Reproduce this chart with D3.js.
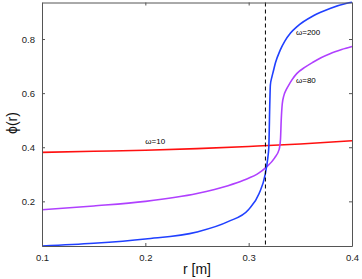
<!DOCTYPE html>
<html>
<head>
<meta charset="utf-8">
<script src="https://cdn.jsdelivr.net/npm/d3@7"></script>
<style>
body { margin: 0; background: #fff; }
svg { display: block; font-family: "Liberation Sans", Arial, sans-serif; }
</style>
</head>
<body>
<div id="chart"></div>
<script>
// values
var xTicks = [0.1, 0.2, 0.3, 0.4];
var yTicks = [0.2, 0.4, 0.6, 0.8];
var rCrit = Math.sqrt(0.1);

var red10 = [[0.1, 0.381], [0.15, 0.385], [0.2, 0.389], [0.25, 0.395], [0.3, 0.403], [0.35, 0.412], [0.4, 0.424]];

var purple80 = [[0.1, 0.169], [0.15, 0.183], [0.2, 0.2], [0.25, 0.229], [0.28, 0.258], [0.295, 0.278],
  [0.31, 0.305], [0.3165, 0.325], [0.325, 0.36], [0.3295, 0.392], [0.3308, 0.43], [0.3315, 0.5],
  [0.3325, 0.56], [0.334, 0.59], [0.336, 0.61], [0.3384, 0.627], [0.3417, 0.648], [0.3465, 0.672],
  [0.355, 0.697], [0.3626, 0.715], [0.37, 0.731], [0.3787, 0.746], [0.39, 0.761], [0.4, 0.772]];

var blue200 = [[0.1, 0.035], [0.15, 0.045], [0.2, 0.061], [0.25, 0.087], [0.28, 0.125], [0.3, 0.17],
  [0.31, 0.228], [0.316, 0.3], [0.3185, 0.36], [0.3195, 0.4], [0.3205, 0.57], [0.321, 0.63],
  [0.3225, 0.66], [0.3238, 0.68], [0.326, 0.713], [0.3303, 0.757], [0.335, 0.792], [0.3405, 0.822],
  [0.3474, 0.848], [0.3626, 0.886], [0.3787, 0.913], [0.395, 0.932], [0.4, 0.936]];

var series = [
  { data: red10, color: "#ff1010", label: "ω=10", at: [0.2, 0.412] },
  { data: purple80, color: "#b040ff", label: "ω=80", at: [0.3458, 0.636] },
  { data: blue200, color: "#2040ff", label: "ω=200", at: [0.3458, 0.815] }
];

var width = 362, height = 279;
var margin = { top: 2.5, right: 10, bottom: 33, left: 42 };

var svg = d3.select("#chart").append("svg")
  .attr("width", width)
  .attr("height", height);

var x = d3.scaleLinear().domain([0.1, 0.4]).range([margin.left, width - margin.right]);
var y = d3.scaleLinear().domain([0.035, 0.935]).range([height - margin.bottom, margin.top]);

var line = d3.line()
  .x(function(d) { return x(d[0]); })
  .y(function(d) { return y(d[1]); })
  .curve(d3.curveMonotoneX);

// curves
series.forEach(function(s) {
  svg.append("path")
    .datum(s.data)
    .attr("fill", "none")
    .attr("stroke", s.color)
    .attr("stroke-width", 1.6)
    .attr("d", line);
});

// dashed line at r = sqrt(0.1)
svg.append("line")
  .attr("x1", x(rCrit)).attr("x2", x(rCrit))
  .attr("y1", y.range()[1]).attr("y2", y.range()[0])
  .attr("stroke", "#000")
  .attr("stroke-width", 1)
  .attr("stroke-dasharray", "4,3");

// curve labels
series.forEach(function(s) {
  svg.append("text")
    .attr("x", x(s.at[0]))
    .attr("y", y(s.at[1]))
    .attr("font-size", 8)
    .attr("fill", "#000")
    .text(s.label);
});

// axes, MATLAB style with inward ticks on all sides
var axCol = "#555";
var bottomAxis = d3.axisBottom(x).tickValues(xTicks).tickSizeInner(-3).tickSizeOuter(0).tickPadding(8).tickFormat(d3.format(".1f"));
var leftAxis = d3.axisLeft(y).tickValues(yTicks).tickSizeInner(-3).tickSizeOuter(0).tickPadding(7).tickFormat(d3.format(".1f"));
var topAxis = d3.axisTop(x).tickValues(xTicks).tickSizeInner(-3).tickSizeOuter(0).tickFormat("");
var rightAxis = d3.axisRight(y).tickValues(yTicks).tickSizeInner(-3).tickSizeOuter(0).tickFormat("");

function styleAxis(g) {
  g.selectAll("path, line").attr("stroke", axCol);
  g.selectAll("text").attr("fill", "#222").attr("font-size", 9.5).attr("font-family", "Liberation Sans, Arial, sans-serif");
}

svg.append("g").attr("transform", "translate(0," + y.range()[0] + ")").call(bottomAxis).call(styleAxis);
svg.append("g").attr("transform", "translate(" + x.range()[0] + ",0)").call(leftAxis).call(styleAxis);
svg.append("g").attr("transform", "translate(0," + y.range()[1] + ")").call(topAxis).call(styleAxis);
svg.append("g").attr("transform", "translate(" + x.range()[1] + ",0)").call(rightAxis).call(styleAxis);

// axis titles
svg.append("text")
  .attr("x", (x.range()[0] + x.range()[1]) / 2)
  .attr("y", 274)
  .attr("text-anchor", "middle")
  .attr("font-size", 14)
  .attr("fill", "#111")
  .text("r [m]");

svg.append("text")
  .attr("transform", "translate(17," + 123 + ") rotate(-90)")
  .attr("text-anchor", "middle")
  .attr("font-size", 14)
  .attr("fill", "#111")
  .text("ϕ(r)");
</script>
</body>
</html>
